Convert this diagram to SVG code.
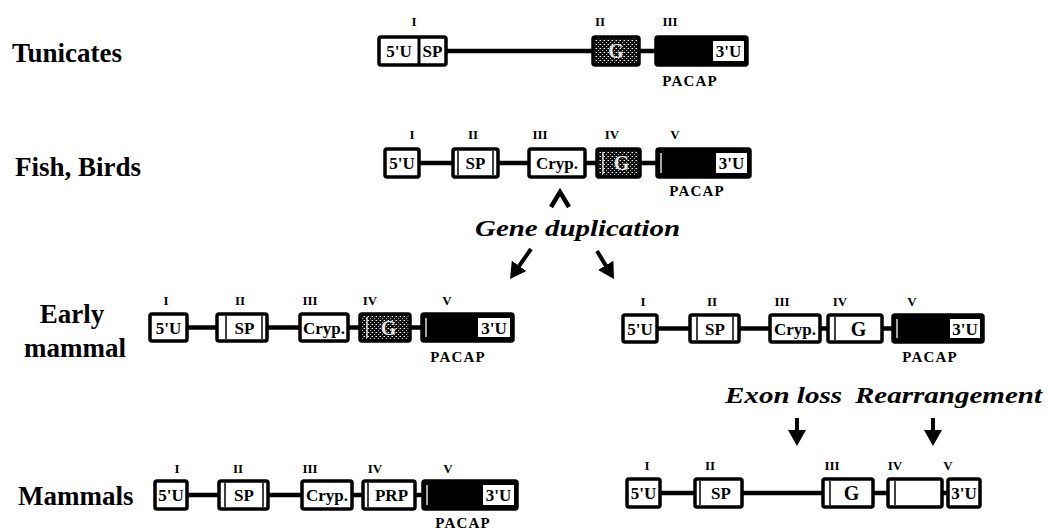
<svg xmlns="http://www.w3.org/2000/svg" width="1050" height="531" viewBox="0 0 1050 531">
<style>
.box{fill:#fff;stroke:#000;stroke-width:3.5}
.blk{fill:#000;stroke:#000;stroke-width:3.5}
.dark{fill:url(#mot);stroke:#000;stroke-width:3.5}
.ins{fill:#fff}
.wl{stroke:#fff;stroke-width:1.3}
.il{stroke:#000;stroke-width:1.5}
.ln{stroke:#000;stroke-width:4.5;fill:none}
.arr{stroke:#000;stroke-width:4;fill:none;marker-end:url(#ah)}
text{font-family:"Liberation Serif","Times New Roman",serif;font-weight:bold}
.bt{font-size:17px;text-anchor:middle}
.gt{font-size:20px;text-anchor:middle}
.gd{fill:#e6e6e6}
.num{font-size:13px;text-anchor:middle}
.pac{font-size:15px;text-anchor:middle;letter-spacing:1.2px}
.lab{font-size:27px}
.it{font-size:24px;font-style:italic}
</style>
<defs>
<pattern id="mot" width="4" height="4" patternUnits="userSpaceOnUse">
<rect width="4" height="4" fill="#111"/>
<rect x="0" y="0" width="1" height="1" fill="#fff"/>
<rect x="2" y="2" width="1" height="1" fill="#bbb"/>
<rect x="3" y="0" width="1" height="1" fill="#777"/>
</pattern>
<marker id="ah" markerUnits="userSpaceOnUse" markerWidth="16" markerHeight="18" refX="12" refY="9" orient="auto">
<path d="M0,0 L16,9 L0,18 z" fill="#000"/>
</marker>
</defs>

<!-- species labels -->
<g id="labels">
<text class="lab" x="12" y="62">Tunicates</text>
<text class="lab" x="15" y="176">Fish, Birds</text>
<text class="lab" x="72" y="323" text-anchor="middle">Early</text>
<text class="lab" x="75" y="357" text-anchor="middle">mammal</text>
<text class="lab" x="18" y="505">Mammals</text>
</g>

<!-- connectors (introns and arrows) -->
<g id="connectors">
<line class="ln" x1="446" y1="51" x2="593" y2="51"/>
<line class="ln" x1="639" y1="51" x2="656" y2="51"/>

<line class="ln" x1="419" y1="163" x2="453" y2="163"/>
<line class="ln" x1="498" y1="163" x2="529" y2="163"/>
<line class="ln" x1="585" y1="163" x2="597" y2="163"/>
<line class="ln" x1="640" y1="163" x2="657" y2="163"/>

<line class="ln" x1="187" y1="327.5" x2="217" y2="327.5"/>
<line class="ln" x1="267" y1="327.5" x2="300" y2="327.5"/>
<line class="ln" x1="348" y1="327.5" x2="360" y2="327.5"/>
<line class="ln" x1="410" y1="327.5" x2="422" y2="327.5"/>

<line class="ln" x1="657" y1="328.5" x2="690" y2="328.5"/>
<line class="ln" x1="739" y1="328.5" x2="770" y2="328.5"/>
<line class="ln" x1="820" y1="328.5" x2="828" y2="328.5"/>
<line class="ln" x1="882" y1="328.5" x2="893" y2="328.5"/>

<line class="ln" x1="187" y1="495" x2="219" y2="495"/>
<line class="ln" x1="268" y1="495" x2="302" y2="495"/>
<line class="ln" x1="352" y1="495" x2="363" y2="495"/>
<line class="ln" x1="415" y1="495" x2="423" y2="495"/>

<line class="ln" x1="660" y1="493" x2="695" y2="493"/>
<line class="ln" x1="742" y1="493" x2="823" y2="493"/>
<line class="ln" x1="873" y1="493" x2="888" y2="493"/>
<line class="ln" x1="942" y1="493" x2="948" y2="493"/>

<path class="ln" d="M551,207 L560,192 L569,207" stroke-width="3.5"/>
<line class="arr" x1="531" y1="249" x2="512.3" y2="275.7"/>
<line class="arr" x1="597" y1="251" x2="611.9" y2="275.6"/>
<line class="arr" x1="797" y1="418" x2="797" y2="442"/>
<line class="arr" x1="933" y1="418" x2="933" y2="442"/>
</g>

<!-- event labels -->
<g id="events">
<text class="it" x="475" y="236" textLength="205" lengthAdjust="spacingAndGlyphs">Gene duplication</text>
<text class="it" x="725" y="403" textLength="117" lengthAdjust="spacingAndGlyphs">Exon loss</text>
<text class="it" x="855" y="403" textLength="187" lengthAdjust="spacingAndGlyphs">Rearrangement</text>
</g>

<!-- Tunicates -->
<g id="tun-exon1">
<rect class="box" x="379" y="37" width="67" height="28" rx="2"/>
<line x1="419" y1="37" x2="419" y2="65" stroke="#000" stroke-width="3"/>
<text class="bt" x="399" y="57">5'U</text>
<text class="bt" x="432.5" y="57">SP</text>
<text class="num" x="414" y="26">I</text>
</g>
<g id="tun-exon2">
<rect class="dark" x="593" y="37" width="46" height="28" rx="2"/>
<text class="gt gd" x="616" y="58">G</text>
<text class="num" x="600" y="26">II</text>
</g>
<g id="tun-exon3">
<rect class="blk" x="656" y="37" width="91" height="28" rx="2"/>
<rect class="ins" x="713" y="41" width="31" height="20"/>
<text class="bt" x="728.5" y="57">3'U</text>
<text class="num" x="670" y="26">III</text>
<text class="pac" x="690" y="86">PACAP</text>
</g>

<!-- Fish, Birds -->
<g id="fish-exon1">
<rect class="box" x="385" y="149" width="34" height="28" rx="2"/>
<text class="bt" x="402" y="169">5'U</text>
<text class="num" x="412" y="139">I</text>
</g>
<g id="fish-exon2">
<rect class="box" x="453" y="149" width="45" height="28" rx="2"/>
<line class="il" x1="458" y1="151" x2="458" y2="175"/>
<line class="il" x1="493" y1="151" x2="493" y2="175"/>
<text class="bt" x="475.5" y="169">SP</text>
<text class="num" x="473" y="139">II</text>
</g>
<g id="fish-exon3">
<rect class="box" x="529" y="149" width="56" height="28" rx="2"/>
<text class="bt" x="557" y="169">Cryp.</text>
<text class="num" x="540" y="139">III</text>
</g>
<g id="fish-exon4">
<rect class="dark" x="597" y="149" width="43" height="28" rx="2"/>
<line class="wl" x1="603" y1="152" x2="603" y2="174"/>
<text class="gt gd" x="621.5" y="170">G</text>
<text class="num" x="612" y="139">IV</text>
</g>
<g id="fish-exon5">
<rect class="blk" x="657" y="149" width="93" height="28" rx="2"/>
<line class="wl" x1="661" y1="153" x2="661" y2="173"/>
<rect class="ins" x="716" y="153" width="31" height="20"/>
<text class="bt" x="731.5" y="169">3'U</text>
<text class="num" x="675" y="139">V</text>
<text class="pac" x="697" y="196">PACAP</text>
</g>

<!-- Early mammal, left -->
<g id="el-exon1">
<rect class="box" x="150" y="314" width="37" height="27" rx="2"/>
<text class="bt" x="168.5" y="333.5">5'U</text>
<text class="num" x="166" y="305">I</text>
</g>
<g id="el-exon2">
<rect class="box" x="217" y="314" width="50" height="27" rx="2"/>
<line class="il" x1="226" y1="316" x2="226" y2="339"/>
<line class="il" x1="262" y1="316" x2="262" y2="339"/>
<text class="bt" x="244.5" y="333.5">SP</text>
<text class="num" x="240" y="305">II</text>
</g>
<g id="el-exon3">
<rect class="box" x="300" y="314" width="48" height="27" rx="2"/>
<text class="bt" x="324" y="333.5">Cryp.</text>
<text class="num" x="310" y="305">III</text>
</g>
<g id="el-exon4">
<rect class="dark" x="360" y="314" width="50" height="27" rx="2"/>
<line class="wl" x1="367" y1="317" x2="367" y2="338"/>
<text class="gt gd" x="388.5" y="335">G</text>
<text class="num" x="370" y="305">IV</text>
</g>
<g id="el-exon5">
<rect class="blk" x="422" y="314" width="91" height="27" rx="2"/>
<line class="wl" x1="426" y1="318" x2="426" y2="337"/>
<rect class="ins" x="478" y="318" width="32" height="19"/>
<text class="bt" x="494" y="333.5">3'U</text>
<text class="num" x="447" y="305">V</text>
<text class="pac" x="458" y="362">PACAP</text>
</g>

<!-- Early mammal, right -->
<g id="er-exon1">
<rect class="box" x="623" y="315" width="34" height="27" rx="2"/>
<text class="bt" x="640" y="334.5">5'U</text>
<text class="num" x="643" y="306">I</text>
</g>
<g id="er-exon2">
<rect class="box" x="690" y="315" width="49" height="27" rx="2"/>
<line class="il" x1="697" y1="317" x2="697" y2="340"/>
<line class="il" x1="733" y1="317" x2="733" y2="340"/>
<text class="bt" x="715" y="334.5">SP</text>
<text class="num" x="712" y="306">II</text>
</g>
<g id="er-exon3">
<rect class="box" x="770" y="315" width="50" height="27" rx="2"/>
<text class="bt" x="795" y="334.5">Cryp.</text>
<text class="num" x="782" y="306">III</text>
</g>
<g id="er-exon4">
<rect class="box" x="828" y="315" width="54" height="27" rx="2"/>
<line class="il" x1="835" y1="317" x2="835" y2="340"/>
<text class="gt" x="858.5" y="336">G</text>
<text class="num" x="840" y="306">IV</text>
</g>
<g id="er-exon5">
<rect class="blk" x="893" y="315" width="90" height="27" rx="2"/>
<line class="wl" x1="897" y1="319" x2="897" y2="338"/>
<rect class="ins" x="950" y="319" width="30" height="19"/>
<text class="bt" x="965" y="334.5">3'U</text>
<text class="num" x="912" y="306">V</text>
<text class="pac" x="930" y="362">PACAP</text>
</g>

<!-- Mammals, left -->
<g id="ml-exon1">
<rect class="box" x="155" y="481" width="32" height="28" rx="2"/>
<text class="bt" x="171" y="501">5'U</text>
<text class="num" x="177" y="473">I</text>
</g>
<g id="ml-exon2">
<rect class="box" x="219" y="481" width="49" height="28" rx="2"/>
<line class="il" x1="225" y1="483" x2="225" y2="507"/>
<line class="il" x1="263" y1="483" x2="263" y2="507"/>
<text class="bt" x="244" y="501">SP</text>
<text class="num" x="238" y="473">II</text>
</g>
<g id="ml-exon3">
<rect class="box" x="302" y="481" width="50" height="28" rx="2"/>
<text class="bt" x="327" y="501">Cryp.</text>
<text class="num" x="310" y="473">III</text>
</g>
<g id="ml-exon4">
<rect class="box" x="363" y="481" width="52" height="28" rx="2"/>
<line class="il" x1="368" y1="483" x2="368" y2="507"/>
<text class="bt" x="391.5" y="501">PRP</text>
<text class="num" x="375" y="473">IV</text>
</g>
<g id="ml-exon5">
<rect class="blk" x="423" y="481" width="94" height="28" rx="2"/>
<line class="wl" x1="427" y1="485" x2="427" y2="505"/>
<rect class="ins" x="483" y="485" width="31" height="20"/>
<text class="bt" x="498.5" y="501">3'U</text>
<text class="num" x="448" y="473">V</text>
<text class="pac" x="463" y="528">PACAP</text>
</g>

<!-- Mammals, right -->
<g id="mr-exon1">
<rect class="box" x="627" y="479" width="33" height="28" rx="2"/>
<text class="bt" x="643.5" y="499">5'U</text>
<text class="num" x="647" y="470">I</text>
</g>
<g id="mr-exon2">
<rect class="box" x="695" y="479" width="47" height="28" rx="2"/>
<line class="il" x1="700" y1="481" x2="700" y2="505"/>
<text class="bt" x="721" y="499">SP</text>
<text class="num" x="710" y="470">II</text>
</g>
<g id="mr-exon3">
<rect class="box" x="823" y="479" width="50" height="28" rx="2"/>
<line class="il" x1="830" y1="481" x2="830" y2="505"/>
<text class="gt" x="851.5" y="500">G</text>
<text class="num" x="832" y="470">III</text>
</g>
<g id="mr-exon4">
<rect class="box" x="888" y="479" width="54" height="28" rx="2"/>
<line class="il" x1="895" y1="481" x2="895" y2="505"/>
<text class="num" x="895" y="470">IV</text>
<text class="num" x="948" y="470">V</text>
</g>
<g id="mr-exon5">
<rect class="box" x="948" y="479" width="32" height="28" rx="2"/>
<text class="bt" x="964" y="499">3'U</text>
</g>
</svg>
